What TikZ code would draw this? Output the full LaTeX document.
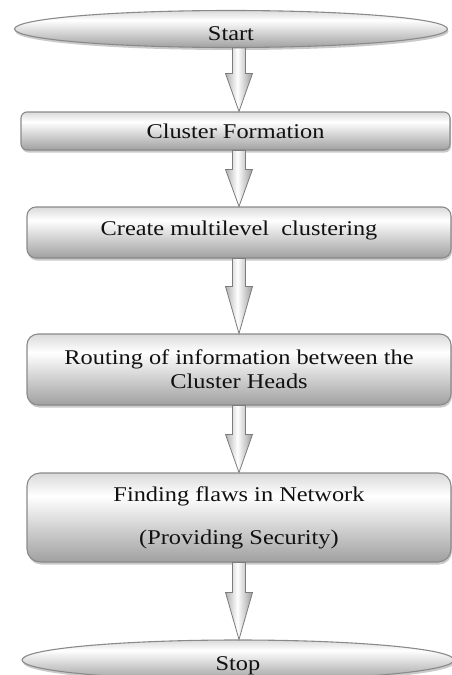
\documentclass[tikz,border=0pt]{standalone}
\usepackage{fontspec}
\setmainfont{Liberation Serif}
\usetikzlibrary{shapes.geometric,shadows,calc}

\definecolor{edgegray}{HTML}{8A8A8A}
\definecolor{shadebot}{HTML}{A0A0A0}
\definecolor{shadetop}{HTML}{DADADA}
\definecolor{arrowl}{HTML}{B0B0B0}
\definecolor{arrowr}{HTML}{9C9C9C}
\definecolor{inktext}{HTML}{111111}

% light band near the top, darker towards the bottom
\pgfdeclareverticalshading{softgray}{100bp}{%
  color(0bp)=(shadebot); color(25bp)=(shadebot); color(62bp)=(white);
  color(75bp)=(shadetop); color(100bp)=(shadetop)}
% block arrows: grey flanks, white core
\pgfdeclarehorizontalshading{arrowshade}{100bp}{%
  color(0bp)=(arrowl); color(25bp)=(arrowl); color(47bp)=(white);
  color(75bp)=(arrowr); color(100bp)=(arrowr)}

\newcommand\wide[1]{\scalebox{1.16}[1]{#1}}
% move a label up or down without changing the space it takes
\newcommand\nudge[2]{\raisebox{#1}[\height][\depth]{#2}}

\tikzset{
  flowfill/.style={draw=edgegray, line width=1.1pt, shading=softgray,
    drop shadow={shadow xshift=1pt, shadow yshift=-2.5pt, opacity=0.35, fill=black!60},
    inner sep=0pt, text=inktext, align=center,
    font=\fontsize{21}{24}\selectfont},
  terminal/.style={flowfill, ellipse},
  stepbox/.style={flowfill, rectangle, rounded corners=#1},
  stepbox/.default=8pt,
  blockarrow/.style={draw=edgegray!90!black, line width=0.8pt, shading=arrowshade},
}

% block arrow between two nodes on the vertical line x = 239pt
\newcommand\flowarrow[3]{%
  \path[blockarrow] let \p1=(#1.south), \p2=(#2.north), \n1={239pt} in
    (\n1-6.5pt,\y1) -- (\n1+6.5pt,\y1) -- (\n1+6.5pt,\y2+#3) --
    (\n1+13.5pt,\y2+#3) -- (\n1,\y2) -- (\n1-13.5pt,\y2+#3) --
    (\n1-6.5pt,\y2+#3) -- cycle;}

\begin{document}
\begin{tikzpicture}[x=1pt, y=-1pt]
\useasboundingbox (0,0) rectangle (452,675);

\node[terminal, minimum width=433pt, minimum height=37pt] (start) at (231,29)
  {\nudge{-5pt}{\wide{Start}}};

\node[stepbox=6pt, minimum width=429pt, minimum height=38pt] (form) at (235.5,131)
  {\wide{Cluster Formation}};

\node[stepbox=9pt, minimum width=424pt, minimum height=51pt] (multi) at (239,232.5)
  {\nudge{2pt}{\wide{Create multilevel\ \ clustering}}};

\node[stepbox=11pt, minimum width=424pt, minimum height=71pt] (route) at (239,369.5)
  {\wide{Routing of information between the}\\ \wide{Cluster Heads}};

\node[stepbox=13pt, minimum width=424pt, minimum height=89pt] (flaws) at (239,517.5)
  {\wide{Finding flaws in\ Network}\\[19pt] \wide{(Providing Security)}};

\node[terminal, minimum width=432pt, minimum height=40pt] (stop) at (238,660)
  {\nudge{-6pt}{\wide{Stop}}};

\flowarrow{start}{form}{38pt}
\flowarrow{form}{multi}{37pt}
\flowarrow{multi}{route}{47pt}
\flowarrow{route}{flaws}{38pt}
\flowarrow{flaws}{stop}{47pt}
\end{tikzpicture}
\end{document}
